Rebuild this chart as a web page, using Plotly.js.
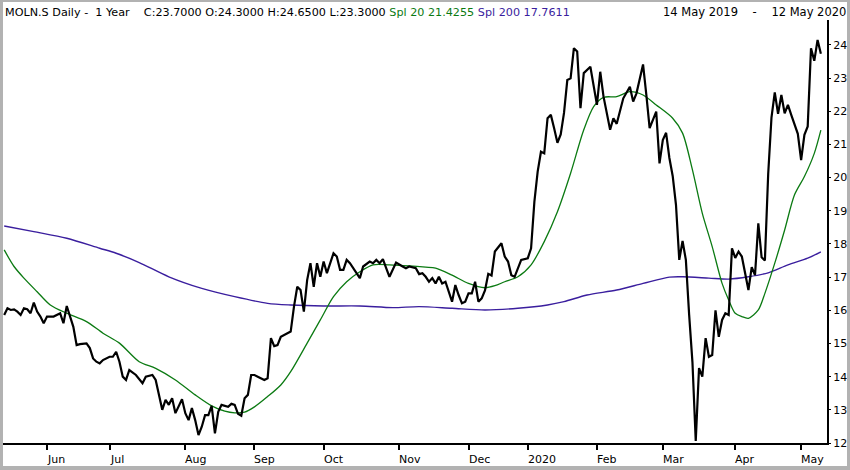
<!DOCTYPE html>
<html>
<head>
<meta charset="utf-8">
<script src="https://cdn.plot.ly/plotly-3.0.1.min.js"></script>
<style>
  html, body { margin: 0; padding: 0; background: #ffffff; }
  #wrap { position: relative; width: 850px; height: 470px; }
  #chart { position: absolute; left: 0; top: 0; width: 850px; height: 470px; }
  #frame { position: absolute; left: 0; top: 0; width: 850px; height: 470px; box-sizing: border-box;
           border-style: solid; border-color: #b2b2b2; border-width: 2px 3px 4px 3px; pointer-events: none; }
</style>
</head>
<body>
<div id="wrap"><div id="chart"></div><div id="frame"></div></div>
<script>
// Trading-session index (0 = 14 May 2019, 248 = 12 May 2020) and daily close
const closeIdx = [0,1,2,3,4,5,6,7,8,9,10,11,12,13,15,17,18,19,21,22,23,25,26,27,28,29,30,32,33,34,35,36,37,38,40,42,43,45,46,47,48,49,50,51,52,54,55,56,57,58,59,60,61,62,63,64,65,66,68,69,70,71,72,73,74,75,76,77,79,80,81,82,83,84,86,87,88,89,90,91,92,93,94,95,96,97,98,100,101,102,103,104,105,106,108,109,111,112,113,114,115,116,117,119,120,121,122,123,125,126,127,128,129,130,131,132,133,134,136,137,138,139,140,141,142,143,144,145,146,147,148,149,151,152,153,154,155,156,157,159,160,161,162,163,164,165,166,167,168,169,170,171,172,173,174,175,176,178,179,180,181,182,184,185,186,187,188,190,191,192,194,195,196,198,199,200,201,202,203,204,205,206,207,208,209,210,211,212,213,214,215,216,217,218,219,220,221,222,223,224,225,226,227,228,229,230,231,232,233,234,235,236,237,238,239,241,242,243,244,245,246,247,248];
const closeVal = [15.86,16.06,16.01,16.03,15.96,15.86,16.06,16.03,15.91,16.23,15.96,15.81,15.61,15.81,15.81,15.91,15.61,16.13,15.5,14.95,14.98,15.0,14.86,14.55,14.45,14.40,14.5,14.6,14.6,14.75,14.45,14.0,13.9,14.2,14.05,13.8,14.0,14.05,13.9,13.45,13.0,13.3,13.15,13.35,12.9,13.32,12.9,12.69,13.05,12.69,12.24,12.49,12.84,12.84,13.12,12.29,12.94,13.15,13.09,13.18,13.15,12.88,12.82,13.35,13.45,14.05,14.05,14.0,13.9,13.95,15.16,14.92,14.95,15.2,15.3,15.36,16.11,16.71,16.61,15.96,16.91,17.42,16.71,17.42,17.01,17.47,17.12,17.72,17.62,17.22,17.22,17.52,17.42,17.27,16.97,17.32,17.47,17.42,17.52,17.42,17.54,17.27,17.01,17.44,17.37,17.32,17.27,17.32,17.27,17.09,17.12,17.01,16.86,16.97,16.81,17.01,16.81,16.86,16.26,16.76,16.46,16.21,16.26,16.51,16.51,16.86,16.26,16.36,16.6,17.1,17.05,17.77,18.02,17.62,17.47,17.06,17.01,17.27,17.52,17.57,17.87,19.27,20.18,20.78,20.73,21.79,21.89,21.49,21.05,21.3,21.95,22.94,22.99,23.9,23.8,22.09,23.15,23.34,22.74,22.19,23.19,22.44,21.44,21.79,21.62,22.04,22.39,22.74,22.29,22.54,23.41,22.49,21.49,21.99,20.43,21.13,21.35,20.59,20.05,19.18,17.52,18.09,17.52,15.86,14.44,12.06,14.26,14.0,15.16,14.6,14.65,16.0,15.2,15.71,15.91,15.86,17.87,17.58,17.77,17.62,17.16,16.61,17.3,17.06,18.62,17.6,17.5,20.11,21.81,22.57,21.92,22.49,21.94,22.19,21.89,21.32,20.53,21.29,21.54,23.9,23.52,24.15,23.73];

// Simple moving average 20
const sma20Idx = [0,3,6,10,14,19,25,30,35,41,46,52,58,63,67,70,73,76,80,84,87,92,96,100,104,108,112,117,123,128,131,136,141,146,149,152,156,160,164,168,172,176,179,182,186,190,194,198,203,206,209,212,215,218,220,222,224,226,229,231,234,237,240,243,246,248];
const sma20Val = [17.82,17.32,16.97,16.56,16.16,15.91,15.66,15.31,15.01,14.45,14.25,13.9,13.45,13.12,12.96,12.91,12.93,13.09,13.4,13.75,14.15,15.01,15.71,16.41,16.86,17.16,17.37,17.37,17.34,17.3,17.27,17.06,16.81,16.68,16.74,16.86,17.01,17.37,18.07,18.97,20.13,21.44,22.14,22.42,22.44,22.59,22.49,22.19,21.79,21.34,20.23,18.92,17.92,16.81,16.31,15.91,15.81,15.76,16.01,16.51,17.42,18.42,19.48,20.03,20.73,21.43];

// Simple moving average 200
const sma200Idx = [0,9,19,29,34,41,50,60,70,80,87,97,108,118,126,136,146,156,165,170,177,186,194,202,206,214,220,226,232,238,244,248];
const sma200Val = [18.54,18.37,18.17,17.87,17.72,17.44,17.01,16.66,16.41,16.21,16.16,16.13,16.13,16.08,16.11,16.06,16.01,16.06,16.16,16.26,16.46,16.61,16.81,17.0,17.01,16.97,16.94,17.01,17.13,17.37,17.57,17.76];

// Month ticks (session index of first trading day) and labels
const tickIdx = [13,32,55,76,97,120,141,159,180,200,222,242];
const tickLbl = ['Jun','Jul','Aug','Sep','Oct','Nov','Dec','2020','Feb','Mar','Apr','May'];
const yTicks = [12,13,14,15,16,17,18,19,20,21,22,23,24];

const headerMain = 'MOLN.S Daily -\u00A0\u00A01 Year\u00A0\u00A0\u00A0 C:23.7000 O:24.3000 H:24.6500 L:23.3000 ';
const headerSma20 = 'Spl 20 21.4255';
const headerSma200 = 'Spl 200 17.7611';
const dateRange = '14 May 2019\u00A0\u00A0\u00A0 - \u00A0\u00A0\u00A012 May 2020';

const GREEN = '#0b7a12';
const PURPLE = '#3a1e9e';
const FONT = 'DejaVu Sans, Verdana, sans-serif';

const traces = [
  { x: sma200Idx, y: sma200Val, type: 'scatter', mode: 'lines',
    line: { color: PURPLE, width: 1.4, shape: 'spline', smoothing: 0.8 } },
  { x: sma20Idx, y: sma20Val, type: 'scatter', mode: 'lines',
    line: { color: GREEN, width: 1.3, shape: 'spline', smoothing: 0.8 } },
  { x: closeIdx, y: closeVal, type: 'scatter', mode: 'lines',
    line: { color: '#000000', width: 2.2 } }
];

const annotations = tickLbl.map((t, k) => ({
  x: tickIdx[k], xref: 'x', y: 0, yref: 'paper',
  xanchor: 'left', yanchor: 'middle', xshift: -2, yshift: -16,
  text: t, showarrow: false, font: { family: FONT, size: 11, color: '#000' }
}));
annotations.push({
  x: 1, xref: 'paper', y: 1, yref: 'paper', xanchor: 'right', yanchor: 'middle',
  xshift: 21, yshift: 8, text: dateRange, showarrow: false,
  font: { family: FONT, size: 11.5, color: '#000' }
});

const layout = {
  width: 850, height: 470,
  margin: { l: 3, r: 23, t: 20, b: 27 },
  paper_bgcolor: '#ffffff', plot_bgcolor: '#ffffff',
  showlegend: false, hovermode: false,
  title: {
    text: headerMain + '<span style="color:' + GREEN + '">' + headerSma20 + '</span> <span style="color:' + PURPLE + '">' + headerSma200 + '</span>',
    xref: 'container', yref: 'container', x: 5 / 850, xanchor: 'left', y: 1 - 12 / 470, yanchor: 'middle',
    font: { family: FONT, size: 11.2, color: '#000' }
  },
  xaxis: {
    type: 'linear', range: [-0.36, 249.86], showgrid: false, zeroline: false,
    showline: true, linecolor: '#000', linewidth: 2,
    tickmode: 'array', tickvals: tickIdx, showticklabels: false,
    ticks: 'outside', ticklen: 5, tickwidth: 2, tickcolor: '#000'
  },
  yaxis: {
    side: 'right', range: [12, 24.75], showgrid: false, zeroline: false,
    showline: true, linecolor: '#000', linewidth: 2,
    tickmode: 'array', tickvals: yTicks, ticktext: yTicks.map(String),
    ticks: 'outside', ticklen: 2, tickwidth: 1, tickcolor: '#000',
    tickfont: { family: FONT, size: 11, color: '#000' }
  },
  annotations: annotations
};

Plotly.newPlot('chart', traces, layout, { displayModeBar: false, staticPlot: true });
</script>
</body>
</html>
